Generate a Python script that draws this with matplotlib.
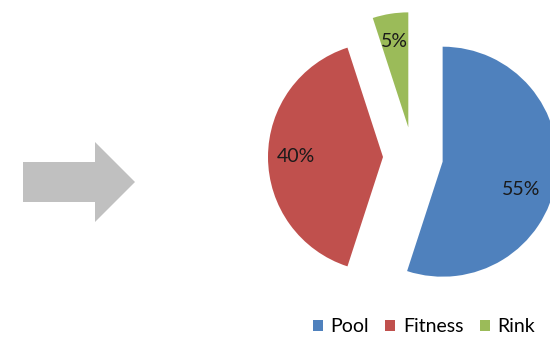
import matplotlib.pyplot as plt
from matplotlib.patches import FancyArrow

labels = ['Pool', 'Fitness', 'Rink']
sizes = [55, 40, 5]
colors = ['#4F81BD', '#C0504D', '#9BBB59']

plt.rcParams['font.family'] = ['Lato', 'DejaVu Sans']

fig = plt.figure(figsize=(5.5, 3.38), dpi=100)
# one axes in pixel units, y going up
ax = fig.add_axes([0, 0, 1, 1])

# grey arrow on the left
ax.add_patch(FancyArrow(23, 156, 112, 0, width=40, head_width=80, head_length=40,
                        length_includes_head=True, color='#C0C0C0', lw=0))

wedges, texts, autotexts = ax.pie(sizes, colors=colors, startangle=90, counterclock=False,
                                  radius=115, center=(413, 181), explode=[30, 30, 30],
                                  autopct='%d%%', pctdistance=0.76,
                                  wedgeprops={'linewidth': 0},
                                  textprops={'fontsize': 14, 'color': '#1a1a1a'})

# excel puts the big label a bit lower and further in
x, y = autotexts[0].get_position()
autotexts[0].set_position((x - 8, y - 14))

ax.set_xlim(0, 550)
ax.set_ylim(0, 338)
ax.set_aspect('auto')
ax.axis('off')

fig.legend(wedges, labels, loc='center', bbox_to_anchor=(424 / 550, 1 - 327 / 338),
           ncol=3, frameon=False, fontsize=14, handlelength=0.5, handleheight=0.5,
           handletextpad=0.4, columnspacing=0.85, borderpad=0)

fig.savefig('out.png', dpi=100)
